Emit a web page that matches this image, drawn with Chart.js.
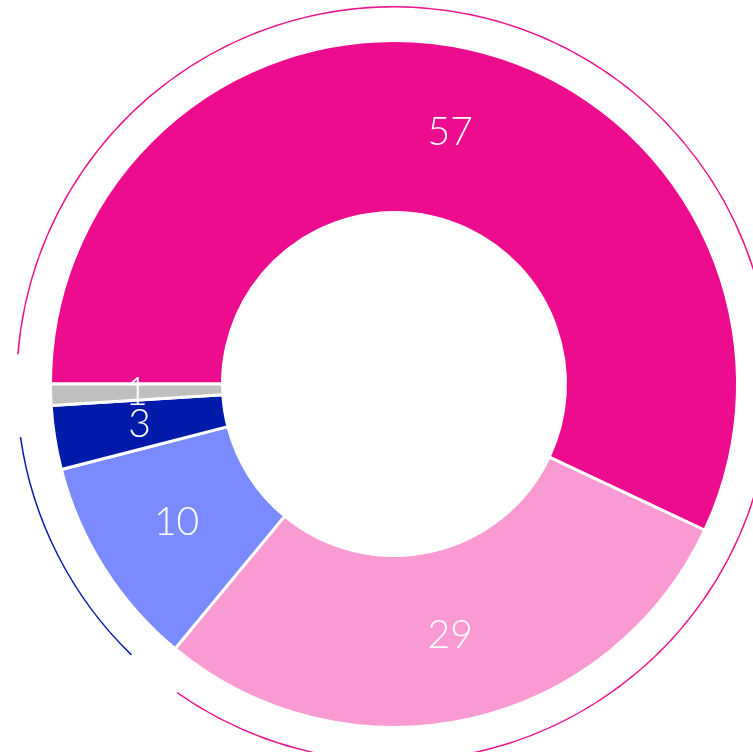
<!DOCTYPE html>
<html>
<head>
<meta charset="utf-8">
<script src="https://cdn.jsdelivr.net/npm/chart.js@4"></script>
<style>
  html, body { margin: 0; padding: 0; background: #fff; overflow: hidden; width: 753px; height: 752px; }
  #chart { position: absolute; left: 16px; top: 6px; }
</style>
</head>
<body>
<canvas id="chart" width="756" height="756"></canvas>
<script>
// segments, clockwise from 9 o'clock
const categories = ['Segment A', 'Segment B', 'Segment C', 'Segment D', 'Segment E'];
const values = [57, 29, 10, 3, 1];
const segmentGroups = ['pink', 'pink', 'blue', 'blue', 'grey'];

const segmentColors = ['#EE0C8E', '#F99AD3', '#7A8BFF', '#001AAA', '#BFBFBF'];
const groupColors = { pink: '#EC1690', blue: '#0A1FA8', grey: 'rgba(0,0,0,0)' };
const GROUP_GAP = 1.25; // gap at each end of an outer arc, in value units

// outer thin ring: one arc per group with small transparent gaps at both ends
const groupOrder = [];
const groupTotals = {};
values.forEach((v, i) => {
  const g = segmentGroups[i];
  if (!(g in groupTotals)) { groupOrder.push(g); groupTotals[g] = 0; }
  groupTotals[g] += v;
});
const outerData = [];
const outerColors = [];
groupOrder.forEach(g => {
  const total = groupTotals[g];
  if (total > 2 * GROUP_GAP) {
    outerData.push(GROUP_GAP, total - 2 * GROUP_GAP, GROUP_GAP);
    outerColors.push('rgba(0,0,0,0)', groupColors[g], 'rgba(0,0,0,0)');
  } else {
    outerData.push(total);
    outerColors.push('rgba(0,0,0,0)');
  }
});

// draw value labels at the middle of each main ring segment
const labelPlugin = {
  id: 'segmentLabels',
  afterDatasetsDraw(chart) {
    const meta = chart.getDatasetMeta(2);
    const ctx = chart.ctx;
    ctx.save();
    ctx.fillStyle = '#ffffff';
    ctx.font = '300 39px Lato, "Open Sans", "DejaVu Sans", sans-serif';
    ctx.textAlign = 'center';
    ctx.textBaseline = 'middle';
    meta.data.forEach((arc, i) => {
      const p = arc.getCenterPoint();
      ctx.fillText(String(values[i]), p.x, p.y);
    });
    ctx.restore();
  }
};

const ctx = document.getElementById('chart').getContext('2d');
new Chart(ctx, {
  type: 'doughnut',
  data: {
    labels: outerData.map((_, i) => categories[i] || ''),
    datasets: [
      {
        data: outerData,
        backgroundColor: outerColors,
        borderWidth: 0,
        hoverBorderWidth: 0,
        weight: 1.5
      },
      {
        data: values,
        backgroundColor: 'rgba(0,0,0,0)',
        borderWidth: 0,
        hoverBorderWidth: 0,
        weight: 33
      },
      {
        data: values,
        backgroundColor: segmentColors,
        borderColor: '#ffffff',
        borderWidth: 3,
        weight: 172
      }
    ]
  },
  options: {
    responsive: false,
    animation: false,
    events: [],
    rotation: -90,
    cutout: 171.5,
    layout: { padding: 0 },
    plugins: {
      legend: { display: false },
      tooltip: { enabled: false }
    }
  },
  plugins: [labelPlugin]
});
</script>
</body>
</html>
